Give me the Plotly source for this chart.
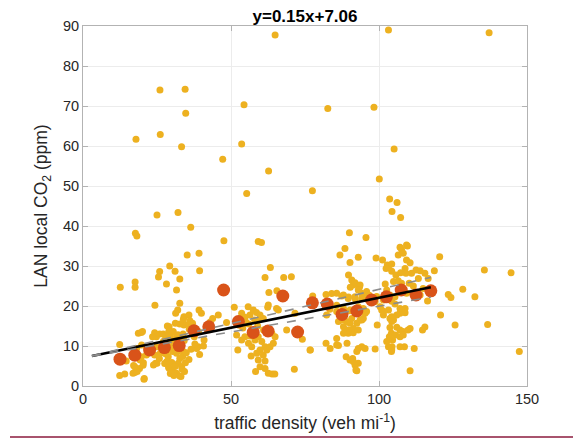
import plotly.graph_objects as go

# Individual site samples: traffic density (veh/mi) vs local CO2 enhancement (ppm)
sample_x = [
    # sparse high values
    64.9, 103.2, 137.2, 26.0, 34.5, 54.4, 82.7, 98.3, 34.7, 17.9, 26.1, 33.3, 53.6,
    105.1, 47.2, 62.7, 100.1, 55.3, 77.5, 103.6, 106.1, 25.0, 32.1, 104.4, 107.3,
    # low-density group
    17.7, 18.2, 36.4, 35.2, 39.2, 39.4, 29.3, 25.9, 25.5, 31.1, 32.7, 28.2, 17.6, 17.6,
    12.6, 31.6, 32.7, 24.3, 32.0, 31.3, 34.1, 35.8, 40.0, 31.2, 32.7, 34.1, 35.8, 29.1,
    18.7, 19.7, 24.2, 24.8, 25.9, 29.5, 12.4, 14.6, 12.4, 14.1, 17.5, 19.1, 20.3, 20.6,
    24.5, 21.4, 19.7, 17.1, 38.9, 39.4, 39.2,
    33.9, 36.1, 37.0, 28.5, 20.1, 23.5, 27.1, 30.5, 31.6, 40.9, 39.0, 38.4, 18.1, 19.8,
    16.8, 19.3, 20.4, 25.0, 24.2, 28.8, 27.7, 28.3, 29.2, 30.3, 31.6, 32.7, 32.2, 33.3,
    31.6, 32.7, 30.5, 33.9, 27.7, 29.4, 23.2, 24.9, 26.1, 23.8, 20.7, 16.9, 18.3, 17.5,
    37.6, 35.9, 37.9, 43.0,
    27.2, 28.4, 29.6, 30.8, 31.9, 33.0, 34.2, 28.0, 30.2, 32.6, 33.7, 34.9, 27.6, 28.9,
    30.0, 31.1, 33.5, 34.6, 29.5, 30.7, 33.1, 34.3, 35.8, 36.5, 26.4, 25.8, 33.8, 32.1,
    29.0, 27.8,
    # mid-density group
    47.6, 59.2, 60.3, 63.3, 61.5, 67.8, 70.4, 62.8, 65.5, 62.6, 62.4, 65.4, 43.8, 45.7,
    51.1, 55.8, 57.5, 58.6, 48.5, 53.6, 54.7, 56.4, 59.8, 60.9, 52.3, 56.8, 61.5, 59.2,
    59.8, 62.6, 63.9, 64.8, 58.3, 61.5, 71.4, 76.8, 74.1, 68.8, 71.6, 66.0, 40.7, 37.8,
    51.9, 53.6, 54.7, 55.9, 57.0, 58.1, 59.2, 60.4, 61.5, 59.8, 58.7, 60.9, 62.1, 63.2,
    64.3, 64.9, 63.8,
    54.0, 56.0, 57.5, 59.0, 61.0, 58.0, 55.0, 60.0, 52.8, 56.5,
    # high-density group
    90.0, 95.6, 88.5, 86.8, 90.2, 93.0, 99.0, 101.2, 102.8, 106.5, 107.6, 109.3, 108.2,
    109.3, 110.5, 102.4, 104.3, 105.7, 107.3, 108.8, 112.5, 113.9, 115.5, 116.6, 89.7,
    90.8, 91.3, 93.4, 90.3, 102.1, 104.9, 106.5, 107.6, 110.2, 111.6, 114.9, 77.6, 82.1,
    84.0, 87.4, 89.7, 92.0, 94.7, 96.7, 99.2, 104.3, 105.4, 82.3, 85.7, 88.0, 90.2, 93.0,
    95.3, 94.7, 86.3, 88.0, 90.2, 91.3, 93.6, 89.6, 91.3, 99.4, 101.5, 100.9, 103.7,
    104.9, 107.1, 108.8, 104.2, 105.6, 108.1, 109.8, 104.6, 104.4, 104.2, 108.6, 111.9,
    110.5, 82.1, 83.5, 86.3, 89.2, 88.9, 91.1, 92.5, 94.2, 93.0, 91.9, 92.5, 95.3, 98.7,
    76.7,
    103.2, 104.3, 107.1, 109.6, 111.0, 109.1, 113.3, 91.9, 93.6, 93.0, 94.1, 95.8, 85.7,
    88.0, 89.6, 91.9, 94.2, 96.4, 98.7, 101.5, 103.7, 105.4, 102.6, 107.1, 109.3, 111.6,
    113.9, 83.4, 85.7, 88.5, 90.2, 94.7, 95.8, 100.4, 101.5, 103.2, 107.1, 108.8, 106.0,
    104.3, 87.4, 89.0, 90.8, 92.5, 94.2, 89.6, 93.0, 88.0, 85.7, 104.3, 106.0, 103.7,
    107.1, 103.5, 102.6, 107.1, 108.2, 110.5, 114.7, 107.1, 103.2, 104.3, 90.2, 91.3,
    92.2, 85.7, 93.0,
    # very high density
    120.5, 118.7, 135.6, 144.6, 116.4, 123.4, 124.3, 128.3, 132.4, 120.8, 125.7, 136.7,
    147.4, 115.5,
]
sample_y = [
    87.75, 89.0, 88.3, 74.0, 74.2, 70.3, 69.4, 69.7, 68.2, 61.7, 62.9, 59.8, 60.5,
    59.25, 56.7, 53.75, 51.75, 48.1, 48.8, 46.75, 45.9, 42.75, 43.4, 43.6, 42.1,
    38.2, 37.5, 39.7, 32.75, 33.2, 28.8, 30.0, 28.6, 27.25, 28.7, 26.75, 25.5, 26.0, 24.7,
    24.7, 24.0, 20.7, 20.2, 19.0, 18.2, 17.3, 17.75, 18.2, 15.7, 15.5, 15.25, 15.5, 14.8,
    13.2, 13.4, 13.3, 12.3, 13.0, 12.5, 10.4, 6.25, 2.6, 3.0, 3.4, 4.4, 5.2, 1.7,
    5.7, 7.75, 7.3, 5.1, 9.8, 7.9, 19.0,
    16.7, 16.3, 15.7, 15.0, 13.6, 12.3, 13.0, 13.6, 12.3, 11.5, 13.6, 9.4, 9.4, 10.25,
    7.3, 6.5, 5.8, 5.7, 7.75, 7.3, 8.6, 6.1, 4.4, 3.6, 8.2, 6.9, 5.7, 4.8,
    3.2, 2.5, 9.0, 8.6, 10.7, 9.8, 9.0, 9.8, 8.2, 5.25, 1.9, 3.2, 3.6, 4.8,
    12.3, 14.2, 14.4, 16.0,
    11.2, 10.5, 11.6, 10.9, 11.8, 10.6, 11.4, 8.0, 8.6, 8.9, 7.4, 8.3, 5.6, 4.6,
    5.9, 4.9, 4.2, 5.8, 3.1, 2.6, 2.4, 3.6, 6.6, 9.2, 9.6, 6.9, 13.0, 12.8,
    13.7, 12.6,
    36.3, 36.1, 35.9, 29.6, 27.1, 27.1, 27.3, 23.4, 23.8, 20.25, 19.7, 19.4, 16.9, 17.75,
    19.7, 19.8, 19.0, 18.4, 15.9, 18.2, 17.2, 17.75, 17.75, 16.9, 9.0, 7.5, 6.25, 6.5,
    4.8, 3.2, 3.0, 3.0, 3.6, 4.4, 4.2, 9.0, 11.7, 14.0, 18.2, 19.0, 10.0, 10.5,
    12.75, 11.5, 12.3, 10.7, 9.8, 11.5, 12.3, 11.1, 9.8, 9.0, 8.2, 7.75, 9.0, 9.8,
    10.7, 12.3, 13.2,
    14.5, 15.5, 13.0, 15.0, 14.0, 16.5, 16.0, 17.0, 15.2, 12.5,
    38.3, 37.1, 34.4, 32.75, 30.9, 32.2, 32.0, 31.5, 30.25, 32.75, 34.2, 35.25, 33.2,
    31.5, 30.8, 29.4, 28.7, 27.75, 28.3, 29.4, 29.0, 28.8, 28.2, 26.9, 27.75,
    26.5, 25.25, 24.7, 24.7, 25.5, 26.1, 26.3, 25.7, 25.7, 25.0, 24.4, 22.5, 22.9,
    23.1, 22.5, 22.25, 21.75, 22.25, 22.7, 22.4, 21.2, 20.5, 17.75, 20.2, 19.4, 19.0, 19.8,
    18.2, 16.9, 16.1, 14.8, 15.7, 14.4, 16.5, 13.2, 13.3, 15.25, 17.75, 19.0, 16.9,
    16.5, 18.2, 19.4, 13.2, 12.75, 13.6, 14.0, 11.5, 9.8, 8.6, 9.8, 9.4,
    3.8, 10.7, 9.4, 10.1, 10.7, 7.3, 6.9, 8.6, 9.8, 5.7, 5.25, 3.8, 9.4, 9.25,
    9.0,
    29.8, 30.5, 34.7, 35.0, 28.2, 28.2, 26.9, 25.8, 25.25, 24.0, 23.2, 23.6, 23.2,
    22.75, 21.9, 22.3, 21.9, 21.5, 21.1, 21.5, 22.75, 22.3, 24.0, 24.2, 23.2, 23.2,
    22.75, 19.2, 18.6, 18.6, 18.8, 19.4, 18.6, 19.8, 18.6, 19.0, 19.4, 18.3, 17.75,
    17.3, 16.5, 16.1, 16.9, 15.7, 16.5, 14.0, 14.0, 13.2, 11.9, 16.1, 14.7, 14.6,
    14.0, 12.3, 11.1, 12.3, 12.75, 14.4, 14.0, 9.8, 9.8, 9.0, 6.5, 6.1,
    4.0, 10.25, 9.4,
    32.3, 28.8, 29.0, 28.3, 21.25, 22.9, 22.1, 24.2, 22.3, 17.75, 15.25, 15.4,
    8.6, 14.75,
]

# Bin means (5 veh/mi bins)
bin_x = [12.5, 17.5, 22.5, 27.5, 32.5, 37.5, 42.5, 47.5, 52.5, 57.5, 62.5,
         67.5, 72.5, 77.5, 82.5, 87.5, 92.5, 97.5, 102.5, 107.5, 112.5, 117.5]
bin_y = [6.7, 7.7, 9.0, 9.6, 10.1, 13.8, 14.8, 24.0, 16.1, 13.4, 13.75,
         22.5, 13.5, 20.8, 20.5, 17.9, 18.75, 21.5, 22.3, 24.0, 22.75, 23.8]

# Linear fit and slope bounds
fit_slope = 0.15
fit_intercept = 7.06
slope_lower = 0.129
slope_upper = 0.171
fit_range = [3.0, 117.5]

x_ticks = [0, 50, 100, 150]
y_ticks = [0, 10, 20, 30, 40, 50, 60, 70, 80, 90]

FONT = "Liberation Sans, Arial, Helvetica, sans-serif"
YELLOW = "#EDB120"
ORANGE = "#D95319"

fig = go.Figure()

fig.add_trace(go.Scatter(
    x=sample_x, y=sample_y, mode="markers",
    marker=dict(color=YELLOW, size=7, line=dict(width=0)),
    showlegend=False, hoverinfo="x+y",
))

fig.add_trace(go.Scatter(
    x=bin_x, y=bin_y, mode="markers",
    marker=dict(color=ORANGE, size=13, line=dict(width=0)),
    showlegend=False,
))

fit_y = [fit_intercept + fit_slope * v for v in fit_range]
lo_y = [fit_intercept + slope_lower * v for v in fit_range]
hi_y = [fit_intercept + slope_upper * v for v in fit_range]

fig.add_trace(go.Scatter(x=fit_range, y=fit_y, mode="lines",
                         line=dict(color="black", width=2.6), showlegend=False))
for yy in (lo_y, hi_y):
    fig.add_trace(go.Scatter(x=fit_range, y=yy, mode="lines",
                             line=dict(color="#8c8c8c", width=1.6, dash="dash"),
                             showlegend=False))

axis_common = dict(
    showline=True, linecolor="#b3b3b3", linewidth=1, mirror="allticks",
    ticks="inside", ticklen=5, tickcolor="#b3b3b3", tickwidth=1,
    showgrid=True, gridcolor="#ececec", gridwidth=1, zeroline=False,
    tickfont=dict(family=FONT, size=14.5, color="#262626"),
    automargin=False,
)

fig.update_layout(
    width=573, height=440,
    margin=dict(l=83, r=46, t=26, b=54),
    paper_bgcolor="white", plot_bgcolor="white",
    title=dict(
        text="<b>y=0.15x+7.06</b>", x=0.5323, xanchor="center",
        y=1 - 16 / 440, yanchor="middle", yref="container",
        font=dict(family=FONT, size=17, color="black"),
    ),
    xaxis=dict(
        range=[0, 150], tickvals=x_ticks, **axis_common,
        title=dict(text="traffic density (veh mi<sup>-1</sup>)", standoff=10,
                   font=dict(family=FONT, size=17.5, color="#262626")),
    ),
    yaxis=dict(
        range=[0, 90], tickvals=y_ticks, **axis_common,
        title=dict(text="LAN local CO<sub>2</sub> (ppm)", standoff=10,
                   font=dict(family=FONT, size=17.5, color="#262626")),
    ),
    shapes=[dict(
        type="line", xref="paper", yref="paper",
        x0=(10 - 83) / 444, x1=(573 - 83) / 444,
        y0=(386 - 437) / 360, y1=(386 - 437) / 360,
        line=dict(color="#8b1a3c", width=1.5),
    )],
)

fig.write_html("out.html")
